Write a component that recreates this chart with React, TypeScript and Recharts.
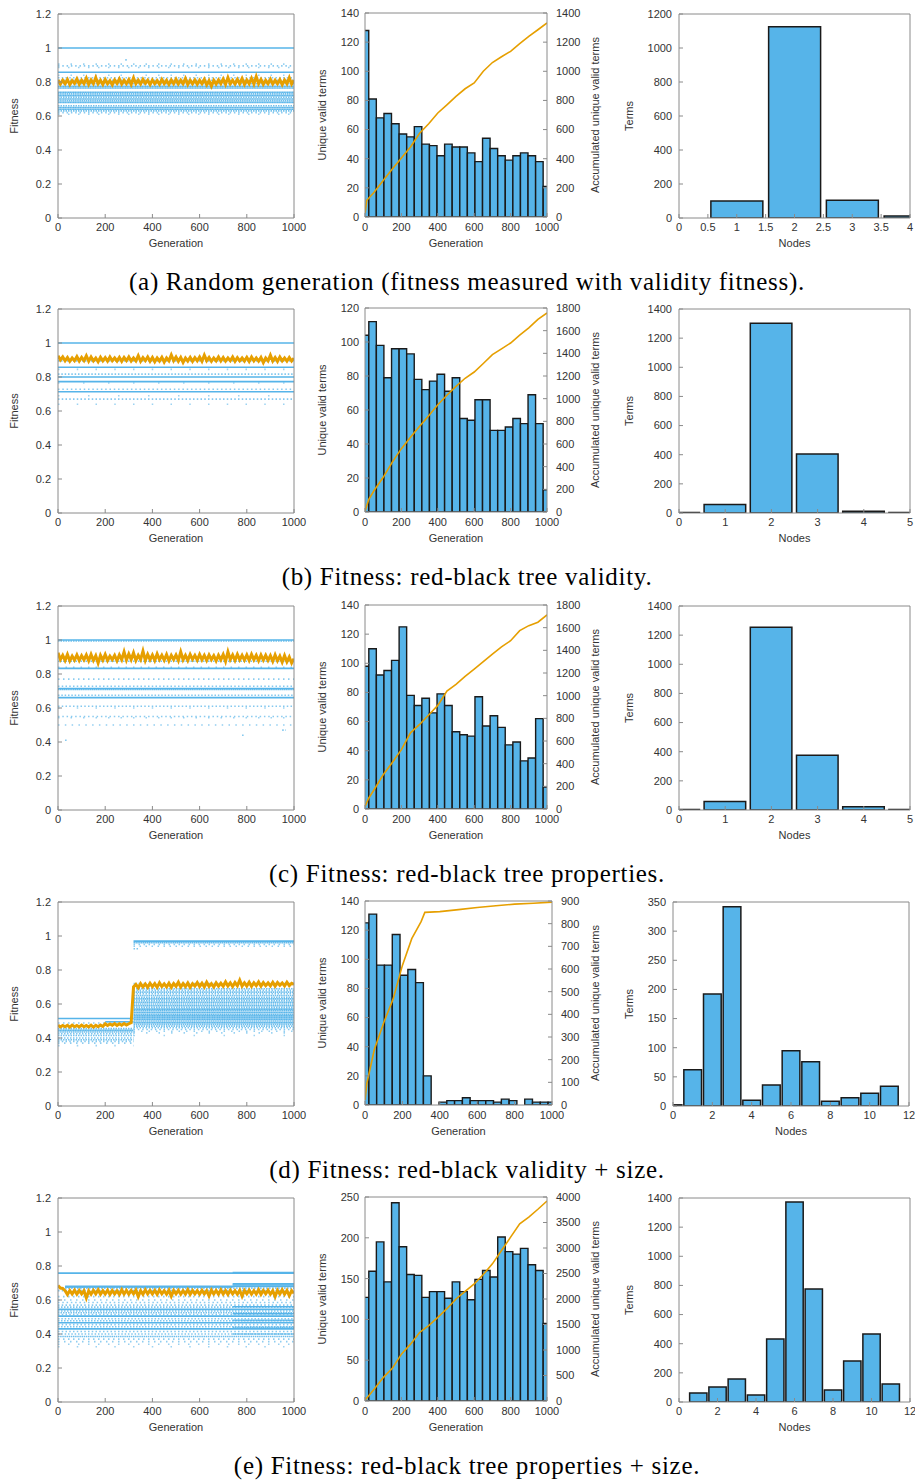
import React from "react";
import { ComposedChart, Bar, Line, XAxis, YAxis } from "recharts";

// generations where the mean fitness was read (every 10 generations)
const sampleGens = [
  0, 10, 20, 30, 40, 50, 60, 70, 80, 90, 100, 110, 120, 130, 140, 150, 160, 170, 180, 190,
  200, 210, 220, 230, 240, 250, 260, 270, 280, 290, 300, 310, 320, 330, 340, 350, 360, 370, 380, 390,
  400, 410, 420, 430, 440, 450, 460, 470, 480, 490, 500, 510, 520, 530, 540, 550, 560, 570, 580, 590,
  600, 610, 620, 630, 640, 650, 660, 670, 680, 690, 700, 710, 720, 730, 740, 750, 760, 770, 780, 790,
  800, 810, 820, 830, 840, 850, 860, 870, 880, 890, 900, 910, 920, 930, 940, 950, 960, 970, 980, 990,
  1000,
];

// histogram bins of the unique-terms charts (bin centres, in generations)
const binCenters = [
  0, 41.7, 83.3, 125, 166.7, 208.3, 250, 291.7, 333.3, 375, 416.7, 458.3, 500, 541.7, 583.3, 625, 666.7, 708.3, 750,
  791.7, 833.3, 875, 916.7, 958.3, 1000,
];

const genTicks = [0, 200, 400, 600, 800, 1000];
const fitTicks = [0, 0.2, 0.4, 0.6, 0.8, 1, 1.2];

// [fitness, first generation, last generation, share of generations with a hit]
type Streak = [number, number, number, number];

// ---- (a) random generation
const meanA = [
  0.812, 0.788, 0.81, 0.79, 0.815, 0.785, 0.808, 0.792, 0.818, 0.787,
  0.81, 0.79, 0.822, 0.786, 0.812, 0.79, 0.826, 0.79, 0.81, 0.785,
  0.815, 0.79, 0.808, 0.784, 0.812, 0.792, 0.818, 0.788, 0.81, 0.79,
  0.814, 0.786, 0.824, 0.79, 0.81, 0.788, 0.815, 0.792, 0.81, 0.785,
  0.812, 0.79, 0.808, 0.787, 0.815, 0.79, 0.81, 0.786, 0.812, 0.79,
  0.816, 0.788, 0.81, 0.79, 0.82, 0.785, 0.81, 0.79, 0.812, 0.787,
  0.81, 0.79, 0.815, 0.784, 0.808, 0.776, 0.81, 0.788, 0.812, 0.79,
  0.818, 0.786, 0.826, 0.79, 0.81, 0.788, 0.815, 0.79, 0.82, 0.786,
  0.812, 0.79, 0.822, 0.788, 0.832, 0.79, 0.815, 0.786, 0.81, 0.79,
  0.816, 0.788, 0.81, 0.79, 0.814, 0.785, 0.812, 0.79, 0.825, 0.788,
  0.81,
];
const streaksA: Streak[] = [
  [1.0, 0, 1000, 1], [0.93, 285, 295, 0.5], [0.905, 0, 1000, 0.12], [0.895, 0, 1000, 0.35], [0.885, 0, 1000, 0.15],
  [0.857, 0, 1000, 1], [0.84, 0, 1000, 0.12], [0.825, 0, 1000, 0.4], [0.81, 0, 1000, 0.5], [0.79, 0, 1000, 0.6],
  [0.775, 0, 1000, 0.9], [0.765, 0, 1000, 0.9], [0.74, 0, 1000, 0.9], [0.73, 0, 1000, 0.7],
  [0.72, 0, 1000, 0.9], [0.71, 0, 1000, 0.6], [0.70, 0, 1000, 0.9], [0.69, 0, 1000, 0.7], [0.68, 0, 1000, 0.9],
  [0.66, 0, 1000, 0.6], [0.65, 0, 1000, 0.9], [0.64, 0, 1000, 0.9], [0.63, 0, 1000, 0.6], [0.62, 0, 1000, 0.35],
  [0.61, 0, 1000, 0.15],
];
const countsA = [128, 81, 68, 71, 64, 57, 55, 62, 50, 49, 42, 50, 48, 48, 44, 38, 54, 47, 42, 39, 42, 44, 42, 38, 21];
const accGensA = [0, 10, 50, 100, 150, 200, 250, 300, 350, 400, 450, 500, 550, 600, 650, 700, 750, 800, 850, 900, 950, 1000];
const accA = [27, 115, 170, 250, 330, 405, 480, 575, 640, 714, 770, 828, 880, 920, 1000, 1060, 1100, 1137, 1190, 1240, 1285, 1332];
const nodesA = [0, 1, 2, 3, 4];
const termsA = [0, 100, 1125, 105, 12];

// ---- (b) red-black tree validity
const meanB = [
  0.925, 0.9, 0.918, 0.895, 0.915, 0.892, 0.912, 0.896, 0.92, 0.894,
  0.915, 0.896, 0.925, 0.893, 0.918, 0.895, 0.912, 0.89, 0.916, 0.895,
  0.914, 0.893, 0.918, 0.896, 0.912, 0.894, 0.916, 0.892, 0.915, 0.896,
  0.918, 0.894, 0.912, 0.895, 0.925, 0.892, 0.914, 0.896, 0.918, 0.893,
  0.915, 0.89, 0.912, 0.894, 0.916, 0.888, 0.912, 0.895, 0.93, 0.896,
  0.918, 0.893, 0.915, 0.886, 0.912, 0.894, 0.916, 0.892, 0.914, 0.895,
  0.918, 0.893, 0.928, 0.896, 0.915, 0.892, 0.912, 0.895, 0.918, 0.894,
  0.915, 0.893, 0.912, 0.896, 0.918, 0.892, 0.914, 0.895, 0.912, 0.894,
  0.916, 0.892, 0.918, 0.895, 0.912, 0.893, 0.915, 0.885, 0.912, 0.895,
  0.928, 0.894, 0.915, 0.892, 0.918, 0.895, 0.912, 0.893, 0.915, 0.894,
  0.91,
];
const streaksB: Streak[] = [
  [1.0, 0, 1000, 1], [0.895, 0, 1000, 0.5], [0.857, 0, 1000, 1], [0.845, 0, 1000, 0.08], [0.817, 0, 1000, 0.45],
  [0.8, 0, 1000, 1], [0.773, 0, 1000, 1], [0.765, 0, 1000, 0.06], [0.728, 0, 1000, 0.35], [0.713, 0, 1000, 1],
  [0.69, 0, 1000, 0.05], [0.67, 0, 1000, 0.4], [0.64, 0, 1000, 0.08],
];
const countsB = [104, 112, 98, 79, 96, 96, 93, 78, 72, 77, 81, 71, 79, 55, 54, 66, 66, 48, 48, 50, 55, 52, 69, 52, 13];
const accGensB = [0, 20, 50, 100, 150, 200, 250, 300, 350, 400, 450, 500, 550, 600, 650, 700, 750, 800, 850, 900, 950, 1000];
const accB = [6, 109, 190, 306, 440, 559, 660, 756, 850, 947, 1030, 1109, 1180, 1235, 1310, 1388, 1440, 1491, 1560, 1624, 1700, 1756];
const nodesB = [0, 1, 2, 3, 4, 5];
const termsB = [3, 58, 1302, 405, 12, 3];

// ---- (c) red-black tree properties
const meanC = [
  0.925, 0.885, 0.91, 0.88, 0.915, 0.878, 0.905, 0.882, 0.912, 0.88,
  0.908, 0.884, 0.912, 0.878, 0.915, 0.88, 0.908, 0.865, 0.91, 0.882,
  0.915, 0.88, 0.905, 0.885, 0.91, 0.878, 0.912, 0.884, 0.93, 0.882,
  0.918, 0.885, 0.925, 0.88, 0.91, 0.885, 0.935, 0.88, 0.915, 0.884,
  0.912, 0.88, 0.918, 0.885, 0.91, 0.882, 0.915, 0.878, 0.91, 0.885,
  0.912, 0.88, 0.93, 0.884, 0.91, 0.88, 0.915, 0.886, 0.91, 0.882,
  0.915, 0.884, 0.91, 0.88, 0.912, 0.885, 0.908, 0.878, 0.91, 0.884,
  0.915, 0.875, 0.93, 0.885, 0.912, 0.88, 0.915, 0.884, 0.91, 0.882,
  0.912, 0.88, 0.915, 0.884, 0.91, 0.878, 0.912, 0.882, 0.91, 0.88,
  0.908, 0.875, 0.912, 0.878, 0.905, 0.87, 0.908, 0.872, 0.9, 0.865,
  0.89,
];
const streaksC: Streak[] = [
  [1.0, 0, 1000, 1], [0.994, 0, 1000, 0.6], [0.875, 0, 1000, 0.6], [0.84, 0, 1000, 0.2], [0.833, 0, 1000, 1],
  [0.77, 0, 1000, 0.3], [0.728, 0, 1000, 0.4], [0.715, 0, 1000, 1], [0.709, 0, 1000, 0.8], [0.675, 0, 1000, 0.45],
  [0.661, 0, 1000, 1], [0.61, 0, 1000, 0.4], [0.6, 0, 1000, 0.08], [0.55, 0, 1000, 0.35], [0.543, 0, 1000, 0.12],
  [0.5, 0, 1000, 0.22], [0.47, 950, 965, 0.5], [0.44, 780, 790, 0.5], [0.41, 30, 40, 0.5],
];
const countsC = [98, 110, 92, 95, 102, 125, 78, 71, 76, 66, 79, 71, 53, 51, 50, 77, 57, 64, 56, 44, 46, 33, 35, 62, 15];
const accGensC = [0, 20, 50, 100, 150, 200, 250, 300, 350, 400, 450, 500, 550, 600, 650, 700, 750, 800, 850, 900, 950, 1000];
const accC = [20, 95, 170, 302, 410, 524, 672, 746, 830, 914, 1041, 1100, 1170, 1234, 1300, 1367, 1430, 1485, 1574, 1618, 1648, 1713];
const nodesC = [0, 1, 2, 3, 4, 5];
const termsC = [3, 58, 1255, 375, 22, 3];

// ---- (d) red-black validity + size
const meanD = [
  0.476, 0.465, 0.474, 0.466, 0.475, 0.464, 0.476, 0.466, 0.474, 0.465,
  0.476, 0.466, 0.474, 0.465, 0.476, 0.464, 0.475, 0.466, 0.476, 0.468,
  0.484, 0.474, 0.483, 0.475, 0.485, 0.474, 0.484, 0.475, 0.485, 0.476,
  0.484, 0.49, 0.7, 0.715, 0.695, 0.72, 0.7, 0.718, 0.698, 0.722,
  0.702, 0.72, 0.698, 0.725, 0.703, 0.718, 0.7, 0.722, 0.698, 0.72,
  0.704, 0.728, 0.7, 0.72, 0.702, 0.724, 0.698, 0.72, 0.705, 0.726,
  0.703, 0.722, 0.7, 0.728, 0.704, 0.72, 0.7, 0.725, 0.705, 0.722,
  0.704, 0.73, 0.706, 0.724, 0.703, 0.726, 0.707, 0.74, 0.705, 0.725,
  0.706, 0.728, 0.704, 0.725, 0.708, 0.73, 0.705, 0.726, 0.708, 0.724,
  0.706, 0.728, 0.705, 0.726, 0.71, 0.724, 0.706, 0.728, 0.708, 0.722,
  0.715,
];
const streaksD: Streak[] = [
  [0.515, 0, 320, 1], [0.495, 200, 320, 1], [0.488, 0, 200, 0.3], [0.455, 0, 320, 0.6], [0.445, 0, 320, 0.9],
  [0.435, 0, 320, 0.7], [0.425, 0, 320, 0.5], [0.415, 0, 320, 0.6], [0.4, 0, 320, 0.5], [0.39, 0, 320, 0.6],
  [0.38, 0, 320, 0.4], [0.37, 0, 320, 0.25], [0.355, 0, 320, 0.08],
  [0.97, 320, 1000, 1], [0.96, 320, 1000, 0.8], [0.95, 320, 1000, 0.3], [0.94, 320, 1000, 0.25], [0.925, 320, 340, 0.5],
  [0.72, 320, 1000, 0.3], [0.69, 320, 1000, 0.6], [0.68, 320, 1000, 0.5], [0.67, 320, 1000, 0.7], [0.66, 320, 1000, 0.5],
  [0.65, 320, 1000, 0.7], [0.64, 320, 1000, 0.6], [0.63, 320, 1000, 0.8], [0.62, 320, 1000, 0.6], [0.61, 320, 1000, 0.8],
  [0.6, 320, 1000, 0.7], [0.59, 320, 1000, 0.8], [0.58, 320, 1000, 0.6], [0.57, 320, 1000, 0.9], [0.56, 320, 1000, 0.8],
  [0.55, 320, 1000, 0.9], [0.54, 320, 1000, 0.8], [0.53, 320, 1000, 0.9], [0.52, 320, 1000, 0.9], [0.51, 320, 1000, 0.9],
  [0.5, 320, 1000, 0.8], [0.49, 320, 1000, 0.9], [0.48, 320, 1000, 0.7], [0.47, 320, 1000, 0.6], [0.46, 320, 1000, 0.5],
  [0.45, 320, 1000, 0.35], [0.44, 320, 1000, 0.2], [0.43, 320, 1000, 0.12], [0.415, 320, 1000, 0.05],
];
const countsD = [125, 131, 96, 96, 117, 89, 93, 84, 20, 0, 2, 3, 3, 5, 3, 3, 3, 2, 4, 3, 0, 4, 2, 2, 2];
const accGensD = [0, 10, 50, 100, 150, 200, 250, 300, 320, 400, 500, 600, 700, 800, 900, 1000];
const accD = [22, 96, 245, 363, 467, 616, 734, 809, 850, 853, 862, 871, 879, 886, 890, 895];
const nodesD = [0, 1, 2, 3, 4, 5, 6, 7, 8, 9, 10, 11];
const termsD = [2, 62, 192, 342, 10, 36, 95, 76, 8, 14, 22, 34];

// ---- (e) red-black tree properties + size
const meanE = [
  0.685, 0.67, 0.668, 0.655, 0.632, 0.656, 0.635, 0.658, 0.634, 0.656,
  0.636, 0.655, 0.612, 0.654, 0.634, 0.657, 0.636, 0.66, 0.634, 0.655,
  0.635, 0.658, 0.633, 0.656, 0.636, 0.654, 0.632, 0.66, 0.635, 0.657,
  0.634, 0.656, 0.636, 0.658, 0.62, 0.655, 0.634, 0.66, 0.636, 0.656,
  0.635, 0.657, 0.633, 0.66, 0.636, 0.655, 0.634, 0.658, 0.622, 0.656,
  0.636, 0.657, 0.634, 0.655, 0.635, 0.66, 0.633, 0.656, 0.636, 0.655,
  0.634, 0.657, 0.636, 0.655, 0.624, 0.658, 0.635, 0.656, 0.634, 0.66,
  0.635, 0.656, 0.633, 0.658, 0.636, 0.655, 0.634, 0.657, 0.622, 0.656,
  0.636, 0.658, 0.634, 0.655, 0.635, 0.66, 0.633, 0.656, 0.636, 0.658,
  0.634, 0.655, 0.62, 0.657, 0.635, 0.66, 0.634, 0.656, 0.625, 0.655,
  0.64,
];
const streaksE: Streak[] = [
  [0.758, 0, 1000, 1], [0.762, 740, 1000, 1], [0.695, 740, 1000, 1], [0.688, 740, 1000, 1],
  [0.68, 30, 1000, 1], [0.675, 30, 740, 0.9], [0.67, 30, 1000, 0.5], [0.655, 0, 1000, 0.4], [0.62, 0, 1000, 0.3],
  [0.6, 0, 1000, 0.25], [0.585, 0, 1000, 0.35], [0.57, 0, 1000, 0.4], [0.558, 0, 1000, 0.5], [0.545, 0, 1000, 1],
  [0.535, 0, 1000, 0.5], [0.525, 0, 1000, 0.6], [0.515, 0, 1000, 0.4], [0.505, 0, 1000, 1], [0.49, 0, 1000, 0.45],
  [0.478, 0, 1000, 0.5], [0.466, 0, 1000, 1], [0.455, 0, 1000, 0.4], [0.443, 0, 1000, 0.5], [0.43, 0, 1000, 1],
  [0.415, 0, 1000, 0.4], [0.4, 0, 1000, 0.45], [0.385, 0, 1000, 0.7], [0.37, 0, 1000, 0.3], [0.355, 0, 1000, 0.25],
  [0.34, 0, 1000, 0.15], [0.325, 0, 1000, 0.08],
  [0.56, 740, 1000, 1], [0.52, 740, 1000, 1], [0.48, 740, 1000, 0.9], [0.44, 740, 1000, 0.8], [0.4, 740, 1000, 0.8],
];
const countsE = [127, 159, 195, 146, 243, 189, 155, 154, 127, 134, 134, 126, 146, 134, 124, 149, 160, 152, 201, 183, 180, 187, 167, 160, 95];
const accGensE = [0, 50, 100, 150, 200, 250, 300, 350, 400, 450, 500, 550, 600, 650, 700, 750, 800, 850, 900, 950, 1000];
const accE = [13, 230, 459, 640, 918, 1115, 1344, 1480, 1639, 1810, 2000, 2150, 2295, 2480, 2689, 2950, 3213, 3475, 3607, 3760, 3921];
const nodesE = [0, 1, 2, 3, 4, 5, 6, 7, 8, 9, 10, 11];
const termsE = [0, 62, 103, 158, 48, 432, 1373, 776, 82, 281, 467, 124];

const captions = [
  "(a) Random generation (fitness measured with validity fitness).",
  "(b) Fitness: red-black tree validity.",
  "(c) Fitness: red-black tree properties.",
  "(d) Fitness: red-black validity + size.",
  "(e) Fitness: red-black tree properties + size.",
];

const BLUE = "#56B4E9";
const ORANGE = "#E69F00";
const INK = "#1a1a1a";
const FRAME = "#8a8a8a";
const TXT = "#333";
const tickFont = { fill: TXT, fontSize: 11 };
const labelFont = { fill: TXT, fontSize: 11 };

// sparse streaks are drawn as dotted runs
function dashFor(share: number) {
  if (share >= 0.95) return undefined;
  const dot = 1.5;
  return `${dot} ${(dot * (1 / share - 1)).toFixed(2)}`;
}

function FitnessPanel({ streaks, mean }: { streaks: Streak[]; mean: number[] }) {
  const rows = sampleGens.map((g, i) => ({ g, v: mean[i] }));
  return (
    <ComposedChart width={310} height={255} data={rows} margin={{ top: 13, right: 15, bottom: 0, left: 0 }}>
      <XAxis xAxisId="x" dataKey="g" type="number" domain={[0, 1000]} ticks={genTicks} interval={0} allowDataOverflow
        height={37} tickSize={-4} tickMargin={9} tick={tickFont} stroke={FRAME}
        label={{ value: "Generation", position: "insideBottom", offset: 8, ...labelFont }} />
      <XAxis xAxisId="top" orientation="top" type="number" domain={[0, 1000]} ticks={genTicks} interval={0}
        allowDataOverflow height={1} tickSize={-4} tick={false} stroke={FRAME} />
      <YAxis yAxisId="y" type="number" domain={[0, 1.2]} ticks={fitTicks} interval={0} allowDataOverflow width={58}
        tickSize={-4} tickMargin={11} tick={tickFont} stroke={FRAME}
        label={{ value: "Fitness", angle: -90, position: "insideLeft", offset: 14, ...labelFont, style: { textAnchor: "middle" } }} />
      <YAxis yAxisId="r" orientation="right" type="number" domain={[0, 1.2]} ticks={fitTicks} interval={0}
        allowDataOverflow width={1} tickSize={-4} tick={false} stroke={FRAME} />
      {streaks.map(([fit, from, to, share], i) => (
        <Line key={i} xAxisId="x" yAxisId="y" data={[{ g: from, s: fit }, { g: to, s: fit }]} dataKey="s"
          stroke={BLUE} strokeWidth={1.6} strokeOpacity={0.55 + 0.45 * share} strokeDasharray={dashFor(share)}
          dot={false} activeDot={false} isAnimationActive={false} />
      ))}
      <Line xAxisId="x" yAxisId="y" dataKey="v" stroke={ORANGE} strokeWidth={3} dot={false} activeDot={false}
        isAnimationActive={false} />
    </ComposedChart>
  );
}

type TermsProps = {
  counts: number[];
  accGens: number[];
  acc: number[];
  leftMax: number;
  leftTicks: number[];
  rightMax: number;
  rightTicks: number[];
  rightWidth: number;
};

function TermsPanel({ counts, accGens, acc, leftMax, leftTicks, rightMax, rightTicks, rightWidth }: TermsProps) {
  const rows = binCenters.map((g, i) => ({ g, n: counts[i] }));
  const accRows = accGens.map((g, i) => ({ g, a: acc[i] }));
  const leftWidth = 55;
  const plotW = 300 - leftWidth - rightWidth;
  const barPx = (plotW * (binCenters[2] - binCenters[1])) / 1000 - 0.05;
  return (
    <ComposedChart width={300} height={255} data={rows} barGap={0} barCategoryGap={0}
      margin={{ top: 12, right: 0, bottom: 0, left: 0 }}>
      <XAxis xAxisId="x" dataKey="g" type="number" domain={[0, 1000]} ticks={genTicks} interval={0} allowDataOverflow
        height={38} tickSize={-4} tickMargin={10} tick={tickFont} stroke={FRAME}
        label={{ value: "Generation", position: "insideBottom", offset: 8, ...labelFont }} />
      <XAxis xAxisId="acc" type="number" dataKey="g" domain={[0, 1000]} allowDataOverflow hide height={0} />
      <XAxis xAxisId="top" orientation="top" type="number" domain={[0, 1000]} ticks={genTicks} interval={0}
        allowDataOverflow height={1} tickSize={-4} tick={false} stroke={FRAME} />
      <YAxis yAxisId="l" type="number" domain={[0, leftMax]} ticks={leftTicks} interval={0} allowDataOverflow
        width={leftWidth} tickSize={-4} tickMargin={10} tick={tickFont} stroke={FRAME}
        label={{ value: "Unique valid terms", angle: -90, position: "insideLeft", offset: 12, ...labelFont, style: { textAnchor: "middle" } }} />
      <YAxis yAxisId="r" orientation="right" type="number" domain={[0, rightMax]} ticks={rightTicks} interval={0}
        allowDataOverflow width={rightWidth} tickSize={-4} tickMargin={13} tick={{ ...tickFont, textAnchor: "start" }} stroke={FRAME}
        label={{ value: "Accumulated unique valid terms", angle: -90, position: "insideRight", offset: 15, ...labelFont, style: { textAnchor: "middle" } }} />
      <Bar xAxisId="x" yAxisId="l" dataKey="n" barSize={barPx} fill={BLUE} stroke={INK} strokeWidth={1.4}
        isAnimationActive={false} />
      <Line xAxisId="acc" yAxisId="r" data={accRows} dataKey="a" stroke={ORANGE} strokeWidth={1.6} dot={false}
        activeDot={false} isAnimationActive={false} />
    </ComposedChart>
  );
}

type NodesProps = {
  nodes: number[];
  terms: number[];
  xMax: number;
  xTicks: number[];
  yMax: number;
  yTicks: number[];
  yWidth: number;
  rightGap: number;
};

function NodesPanel({ nodes, terms, xMax, xTicks, yMax, yTicks, yWidth, rightGap }: NodesProps) {
  const rows = nodes.map((k, i) => ({ k, t: terms[i] }));
  const plotW = 300 - yWidth - 1 - rightGap;
  const barPx = (0.9 * plotW) / xMax;
  return (
    <ComposedChart width={300} height={255} data={rows} margin={{ top: 13, right: rightGap, bottom: 0, left: 0 }}>
      <XAxis xAxisId="x" dataKey="k" type="number" domain={[0, xMax]} ticks={xTicks} interval={0} allowDataOverflow
        height={37} tickSize={-4} tickMargin={9} tick={tickFont} stroke={FRAME}
        label={{ value: "Nodes", position: "insideBottom", offset: 8, ...labelFont }} />
      <XAxis xAxisId="top" orientation="top" type="number" domain={[0, xMax]} ticks={xTicks} interval={0}
        allowDataOverflow height={1} tickSize={-4} tick={false} stroke={FRAME} />
      <YAxis yAxisId="y" type="number" domain={[0, yMax]} ticks={yTicks} interval={0} allowDataOverflow width={yWidth}
        tickSize={-4} tickMargin={11} tick={tickFont} stroke={FRAME}
        label={{ value: "Terms", angle: -90, position: "insideLeft", offset: 14, ...labelFont, style: { textAnchor: "middle" } }} />
      <YAxis yAxisId="r" orientation="right" type="number" domain={[0, yMax]} ticks={yTicks} interval={0}
        allowDataOverflow width={1} tickSize={-4} tick={false} stroke={FRAME} />
      <Bar xAxisId="x" yAxisId="y" dataKey="t" barSize={barPx} fill={BLUE} stroke={INK} strokeWidth={1.5}
        isAnimationActive={false} />
    </ComposedChart>
  );
}

const ticks140 = [0, 20, 40, 60, 80, 100, 120, 140];
const ticks120 = [0, 20, 40, 60, 80, 100, 120];
const ticks250 = [0, 50, 100, 150, 200, 250];
const ticks1400 = [0, 200, 400, 600, 800, 1000, 1200, 1400];
const ticks1800 = [0, 200, 400, 600, 800, 1000, 1200, 1400, 1600, 1800];
const ticks900 = [0, 100, 200, 300, 400, 500, 600, 700, 800, 900];
const ticks4000 = [0, 500, 1000, 1500, 2000, 2500, 3000, 3500, 4000];
const ticks1200 = [0, 200, 400, 600, 800, 1000, 1200];
const ticks350 = [0, 50, 100, 150, 200, 250, 300, 350];
const nodeTicks4 = [0, 0.5, 1, 1.5, 2, 2.5, 3, 3.5, 4];
const nodeTicks5 = [0, 1, 2, 3, 4, 5];
const nodeTicks12 = [0, 2, 4, 6, 8, 10, 12];

const rowTops = [0, 295, 592, 888, 1184];

const panels = [
  {
    fit: { streaks: streaksA, mean: meanA },
    terms: { counts: countsA, accGens: accGensA, acc: accA, leftMax: 140, leftTicks: ticks140, rightMax: 1400, rightTicks: ticks1400, rightWidth: 63 },
    nodes: { nodes: nodesA, terms: termsA, xMax: 4, xTicks: nodeTicks4, yMax: 1200, yTicks: ticks1200, yWidth: 64, rightGap: 4 },
  },
  {
    fit: { streaks: streaksB, mean: meanB },
    terms: { counts: countsB, accGens: accGensB, acc: accB, leftMax: 120, leftTicks: ticks120, rightMax: 1800, rightTicks: ticks1800, rightWidth: 63 },
    nodes: { nodes: nodesB, terms: termsB, xMax: 5, xTicks: nodeTicks5, yMax: 1400, yTicks: ticks1400, yWidth: 64, rightGap: 4 },
  },
  {
    fit: { streaks: streaksC, mean: meanC },
    terms: { counts: countsC, accGens: accGensC, acc: accC, leftMax: 140, leftTicks: ticks140, rightMax: 1800, rightTicks: ticks1800, rightWidth: 63 },
    nodes: { nodes: nodesC, terms: termsC, xMax: 5, xTicks: nodeTicks5, yMax: 1400, yTicks: ticks1400, yWidth: 64, rightGap: 4 },
  },
  {
    fit: { streaks: streaksD, mean: meanD },
    terms: { counts: countsD, accGens: accGensD, acc: accD, leftMax: 140, leftTicks: ticks140, rightMax: 900, rightTicks: ticks900, rightWidth: 58 },
    nodes: { nodes: nodesD, terms: termsD, xMax: 12, xTicks: nodeTicks12, yMax: 350, yTicks: ticks350, yWidth: 58, rightGap: 5 },
  },
  {
    fit: { streaks: streaksE, mean: meanE },
    terms: { counts: countsE, accGens: accGensE, acc: accE, leftMax: 250, leftTicks: ticks250, rightMax: 4000, rightTicks: ticks4000, rightWidth: 63 },
    nodes: { nodes: nodesE, terms: termsE, xMax: 12, xTicks: nodeTicks12, yMax: 1400, yTicks: ticks1400, yWidth: 64, rightGap: 4 },
  },
];

export default function App() {
  return (
    <div
      style={{
        position: "absolute",
        left: 0,
        top: 0,
        width: 915,
        height: 1482,
        overflow: "hidden",
        background: "#fff",
        fontFamily: "'Liberation Sans', Arial, sans-serif",
      }}
    >
      {panels.map((p, i) => (
        <React.Fragment key={i}>
          <div style={{ position: "absolute", left: 0, top: rowTops[i] }}>
            <FitnessPanel {...p.fit} />
          </div>
          <div style={{ position: "absolute", left: 310, top: rowTops[i] }}>
            <TermsPanel {...p.terms} />
          </div>
          <div style={{ position: "absolute", left: 615, top: rowTops[i] }}>
            <NodesPanel {...p.nodes} />
          </div>
          <div
            style={{
              position: "absolute",
              left: 10,
              width: 914,
              top: rowTops[i] + 267,
              textAlign: "center",
              fontFamily: "'Liberation Serif', serif",
              fontSize: 25,
              lineHeight: "29px",
              letterSpacing: 0.7,
              color: "#000",
            }}
          >
            {captions[i]}
          </div>
        </React.Fragment>
      ))}
    </div>
  );
}
